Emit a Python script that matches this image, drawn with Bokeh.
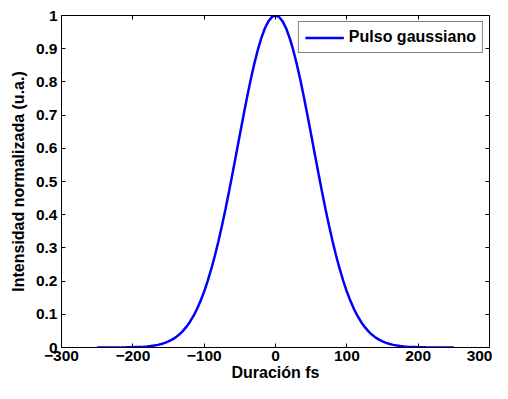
from bokeh.plotting import figure
from bokeh.models import LinearAxis, FixedTicker, Range1d, Legend, LegendItem
from bokeh.embed import file_html
from bokeh.resources import INLINE

# Data
duracion_fs = [-250, -245, -240, -235, -230, -225, -220, -215, -210, -205,
               -200, -195, -190, -185, -180, -175, -170, -165, -160, -155,
               -150, -145, -140, -135, -130, -125, -120, -115, -110, -105,
               -100, -95, -90, -85, -80, -75, -70, -65, -60, -55,
               -50, -45, -40, -35, -30, -25, -20, -15, -10, -5,
               0, 5, 10, 15, 20, 25, 30, 35, 40, 45,
               50, 55, 60, 65, 70, 75, 80, 85, 90, 95,
               100, 105, 110, 115, 120, 125, 130, 135, 140, 145,
               150, 155, 160, 165, 170, 175, 180, 185, 190, 195,
               200, 205, 210, 215, 220, 225, 230, 235, 240, 245, 250]
intensidad = [0.0000, 0.0000, 0.0000, 0.0001, 0.0001, 0.0001, 0.0002, 0.0003, 0.0004, 0.0006,
              0.0008, 0.0012, 0.0016, 0.0023, 0.0031, 0.0043, 0.0058, 0.0079, 0.0105, 0.0139,
              0.0182, 0.0237, 0.0305, 0.0390, 0.0494, 0.0620, 0.0771, 0.0950, 0.1160, 0.1405,
              0.1686, 0.2006, 0.2365, 0.2764, 0.3201, 0.3674, 0.4180, 0.4714, 0.5269, 0.5837,
              0.6408, 0.6974, 0.7522, 0.8041, 0.8520, 0.8947, 0.9313, 0.9607, 0.9824, 0.9956,
              1.0000, 0.9956, 0.9824, 0.9607, 0.9313, 0.8947, 0.8520, 0.8041, 0.7522, 0.6974,
              0.6408, 0.5837, 0.5269, 0.4714, 0.4180, 0.3674, 0.3201, 0.2764, 0.2365, 0.2006,
              0.1686, 0.1405, 0.1160, 0.0950, 0.0771, 0.0620, 0.0494, 0.0390, 0.0305, 0.0237,
              0.0182, 0.0139, 0.0105, 0.0079, 0.0058, 0.0043, 0.0031, 0.0023, 0.0016, 0.0012,
              0.0008, 0.0006, 0.0004, 0.0003, 0.0002, 0.0001, 0.0001, 0.0001, 0.0000, 0.0000, 0.0000]

x_ticks = [-300, -200, -100, 0, 100, 200, 300]
x_tick_labels = ["\u2212300", "\u2212200", "\u2212100", "0", "100", "200", "300"]
y_ticks = [0, 0.1, 0.2, 0.3, 0.4, 0.5, 0.6, 0.7, 0.8, 0.9, 1]
y_tick_labels = ["0", "0.1", "0.2", "0.3", "0.4", "0.5", "0.6", "0.7", "0.8", "0.9", "1"]
serie_nombre = "Pulso gaussiano"

FONT = "Liberation Sans"
FS_TICK = "15.5px"
FS_LABEL = "16px"

p = figure(width=492, height=383, output_backend="svg", toolbar_location=None,
           x_range=Range1d(-300, 300), y_range=Range1d(0, 1),
           x_axis_label="Duración fs", y_axis_label="Intensidad normalizada (u.a.)",
           min_border_left=61, min_border_right=3, min_border_top=15, min_border_bottom=33)
p.grid.visible = False
p.outline_line_color = "black"
p.background_fill_color = "white"
p.border_fill_color = "white"

def style_axis(ax, ticks, labels, show_labels=True):
    ax.ticker = FixedTicker(ticks=ticks)
    ax.major_tick_in = 4
    ax.major_tick_out = 0
    ax.minor_tick_line_color = None
    ax.axis_line_color = "black"
    ax.major_tick_line_color = "black"
    ax.axis_line_width = 1
    if show_labels:
        ax.major_label_overrides = {t: l for t, l in zip(ticks, labels)}
        ax.major_label_text_font = FONT
        ax.major_label_text_font_style = "bold"
        ax.major_label_text_font_size = FS_TICK
        ax.major_label_text_color = "black"
        ax.axis_label_text_font = FONT
        ax.axis_label_text_font_style = "bold"
        ax.axis_label_text_font_size = FS_LABEL
        ax.axis_label_text_color = "black"
    else:
        ax.major_label_text_font_size = "1px"
        ax.major_label_text_color = None
        ax.major_label_standoff = 0

style_axis(p.xaxis[0], x_ticks, x_tick_labels)
p.xaxis[0].major_label_standoff = 3
p.xaxis[0].axis_label_standoff = 0
style_axis(p.yaxis[0], y_ticks, y_tick_labels)
p.yaxis[0].major_label_standoff = 4
p.yaxis[0].axis_label_standoff = 6

top = LinearAxis()
style_axis(top, x_ticks, None, show_labels=False)
p.add_layout(top, "above")
right = LinearAxis()
style_axis(right, y_ticks, None, show_labels=False)
p.add_layout(right, "right")

r = p.line(duracion_fs, intensidad, line_color="#0000ff", line_width=2.5)

legend = Legend(items=[LegendItem(label=serie_nombre, renderers=[r])],
                location="top_right", margin=6, padding=6, spacing=0,
                glyph_width=39, glyph_height=17, label_height=17, label_standoff=5,
                label_text_font=FONT, label_text_font_style="bold",
                label_text_font_size=FS_LABEL, label_text_color="black",
                border_line_color="black", border_line_width=1,
                background_fill_color="white", background_fill_alpha=1)
p.add_layout(legend, "center")

open("out.html", "w").write(file_html(p, INLINE))
